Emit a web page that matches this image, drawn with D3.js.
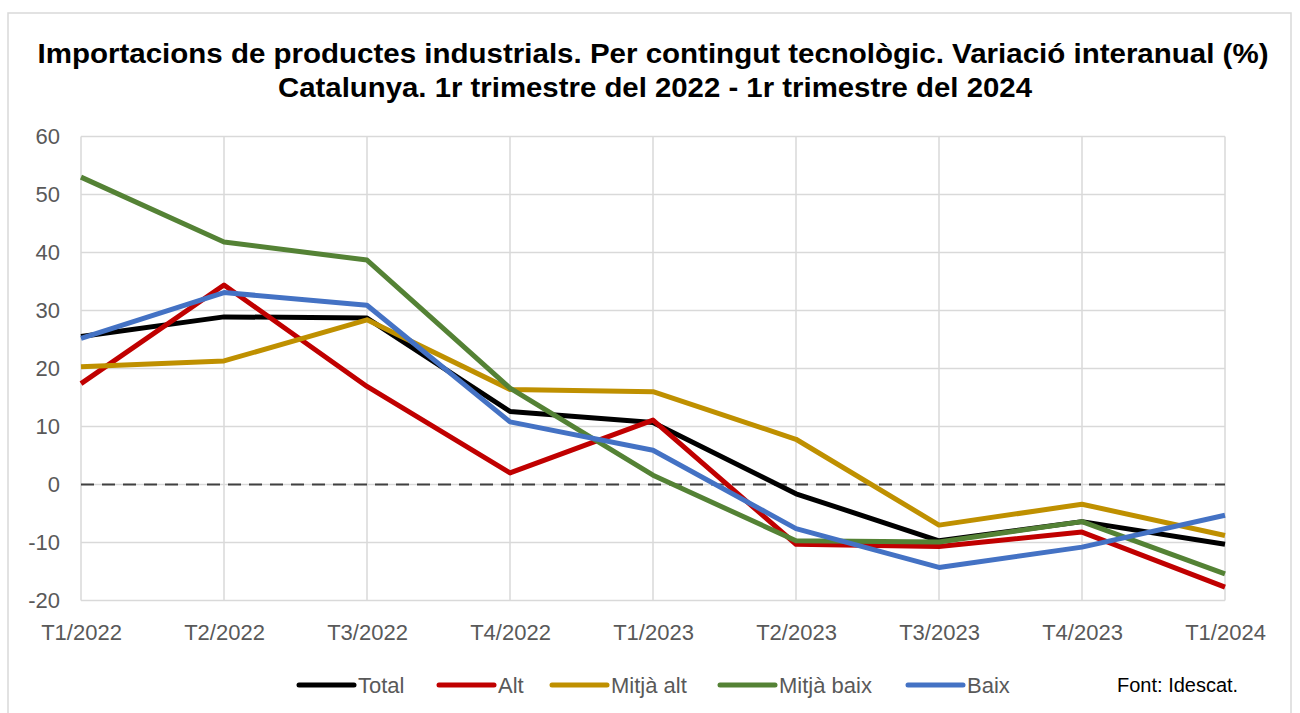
<!DOCTYPE html>
<html>
<head>
<meta charset="utf-8">
<script src="https://cdn.jsdelivr.net/npm/d3@7"></script>
<style>
  body { margin: 0; background: #fff; }
  svg text { font-family: "Liberation Sans", Arial, sans-serif; }
</style>
</head>
<body>
<svg id="chart" width="1300" height="713"></svg>
<script>
// data
var quarters = ['T1/2022','T2/2022','T3/2022','T4/2022','T1/2023','T2/2023','T3/2023','T4/2023','T1/2024'];
var total    = [25.5, 28.9, 28.7, 12.6, 10.7, -1.6, -9.7, -6.4, -10.3];
var alt      = [17.4, 34.4, 16.9,  2.0, 11.1, -10.3, -10.7, -8.2, -17.7];
var mitjaAlt = [20.3, 21.3, 28.4, 16.4, 16.0,  7.8, -7.0, -3.4, -8.8];
var mitjaBaix= [53.0, 41.8, 38.7, 16.6,  1.6, -9.7, -9.9, -6.4, -15.4];
var baix     = [25.2, 33.1, 30.9, 10.8,  5.9, -7.6, -14.3, -10.8, -5.3];
var yTicks   = [-20, -10, 0, 10, 20, 30, 40, 50, 60];

var series = [
  {name: 'Total',      values: total,     color: '#000000'},
  {name: 'Alt',        values: alt,       color: '#C00000'},
  {name: 'Mitjà alt',  values: mitjaAlt,  color: '#BF9000'},
  {name: 'Mitjà baix', values: mitjaBaix, color: '#548235'},
  {name: 'Baix',       values: baix,      color: '#4472C4'}
];

var svg = d3.select('#chart');

// outer frame
svg.append('rect')
  .attr('x', 8).attr('y', 13)
  .attr('width', 1283).attr('height', 710)
  .attr('fill', 'none')
  .attr('stroke', '#d9d9d9')
  .attr('stroke-width', 1.5);

// title
svg.append('text')
  .attr('x', 653).attr('y', 62.5)
  .attr('text-anchor', 'middle')
  .attr('font-size', 28.5).attr('font-weight', 'bold')
  .attr('textLength', 1231).attr('lengthAdjust', 'spacingAndGlyphs')
  .text('Importacions de productes industrials. Per contingut tecnològic. Variació interanual (%)');
svg.append('text')
  .attr('x', 655).attr('y', 97)
  .attr('text-anchor', 'middle')
  .attr('font-size', 28.5).attr('font-weight', 'bold')
  .attr('textLength', 754).attr('lengthAdjust', 'spacingAndGlyphs')
  .text('Catalunya. 1r trimestre del 2022 - 1r trimestre del 2024');

var x = d3.scalePoint().domain(quarters).range([81, 1225]);
var y = d3.scaleLinear().domain([-20, 60]).range([600.5, 136.5]);

// gridlines
svg.append('g')
  .selectAll('line')
  .data(yTicks)
  .join('line')
  .attr('x1', 81).attr('x2', 1225)
  .attr('y1', d => y(d)).attr('y2', d => y(d))
  .attr('stroke', '#d9d9d9').attr('stroke-width', 1.5);

svg.append('g')
  .selectAll('line')
  .data(quarters)
  .join('line')
  .attr('x1', d => x(d)).attr('x2', d => x(d))
  .attr('y1', y(60)).attr('y2', y(-20))
  .attr('stroke', '#d9d9d9').attr('stroke-width', 1.5);

// zero line
svg.append('line')
  .attr('x1', 81).attr('x2', 1225)
  .attr('y1', y(0)).attr('y2', y(0))
  .attr('stroke', '#404040').attr('stroke-width', 2)
  .attr('stroke-dasharray', '13,8');

// y axis labels (plain hyphen for negatives, as in the original)
var yAxis = svg.append('g')
  .attr('transform', 'translate(60,0)')
  .call(d3.axisLeft(y).tickValues(yTicks).tickFormat(d => String(d)).tickSize(0).tickPadding(0));
yAxis.select('.domain').remove();
yAxis.selectAll('text')
  .attr('font-size', 22).attr('fill', '#595959')
  .attr('font-family', '"Liberation Sans", Arial, sans-serif');

// x axis labels
var xAxis = svg.append('g')
  .attr('transform', 'translate(0,624)')
  .call(d3.axisBottom(x).tickSize(0).tickPadding(0));
xAxis.select('.domain').remove();
xAxis.selectAll('text')
  .attr('font-size', 22).attr('fill', '#595959')
  .attr('font-family', '"Liberation Sans", Arial, sans-serif');

// lines
var line = d3.line()
  .x((d, i) => x(quarters[i]))
  .y(d => y(d));

svg.append('g')
  .selectAll('path')
  .data(series)
  .join('path')
  .attr('d', d => line(d.values))
  .attr('fill', 'none')
  .attr('stroke', d => d.color)
  .attr('stroke-width', 5)
  .attr('stroke-linejoin', 'round');

// legend
var legendX = [299, 439, 552, 720, 908];
var legend = svg.append('g')
  .selectAll('g')
  .data(series)
  .join('g')
  .attr('transform', (d, i) => 'translate(' + legendX[i] + ',685)');
legend.append('line')
  .attr('x1', 0).attr('x2', 55)
  .attr('stroke', d => d.color)
  .attr('stroke-width', 5)
  .attr('stroke-linecap', 'round');
legend.append('text')
  .attr('x', 59).attr('dy', '0.35em')
  .attr('font-size', 22).attr('fill', '#595959')
  .text(d => d.name);

// source
svg.append('text')
  .attr('x', 1117).attr('y', 692)
  .attr('font-size', 20).attr('fill', '#000')
  .text('Font: Idescat.');
</script>
</body>
</html>
